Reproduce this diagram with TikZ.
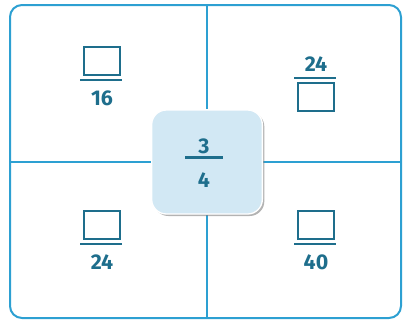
\documentclass[tikz,border=0pt]{standalone}
\usepackage{fontspec}
\setmainfont{Fira Sans}
\usepackage{xcolor}
\usepackage{tikz}
\usetikzlibrary{positioning,shadows,backgrounds}
\definecolor{GridBlue}{RGB}{45,160,210}
\definecolor{FracInk}{RGB}{30,110,140}
\definecolor{HubFill}{RGB}{210,232,244}

\begin{document}
\begin{tikzpicture}[
  x=0.75pt, y=-0.75pt,
  frame/.style={draw=GridBlue, line width=1.5pt, rounded corners=9pt},
  grid/.style={draw=GridBlue, line width=1.2pt},
  hub/.style={rectangle, rounded corners=11pt, minimum width=83pt, minimum height=78pt,
              fill=HubFill, draw=white, line width=1pt,
              drop shadow={shadow xshift=1.5pt, shadow yshift=-1.5pt, fill=black!50, opacity=0.6}},
  blank/.style={rectangle, draw=FracInk, line width=1.3pt, minimum width=27pt, minimum height=21pt, inner sep=0pt},
  num/.style={text=FracInk, font=\fontsize{16}{18}\selectfont\bfseries, inner sep=1pt},
  bar/.style={draw=FracInk, line width=2pt}
]
\useasboundingbox (0,0) rectangle (403,322);
\draw[frame] (10,5) rectangle (401,318);
\coordinate (top) at (207,5);
\coordinate (bot) at (207,318);
\coordinate (lft) at (10,162);
\coordinate (rgt) at (401,162);
\node[hub] (hub) at (207,162) {};
\begin{scope}[on background layer]
\draw[grid] (top) -- (hub.north);
\draw[grid] (bot) -- (hub.south);
\draw[grid] (lft) -- (hub.west);
\draw[grid] (rgt) -- (hub.east);
\end{scope}
% centre fraction
\node[num] (h3) at (204,146) {3};
\node[num] (h4) at (204,180) {4};
\draw[bar] ([xshift=-14pt,yshift=-2pt]h3.south) -- ([xshift=14pt,yshift=-2pt]h3.south);
% top left
\node[blank] (tlbox) at (102,61) {};
\node[num, below=10pt of tlbox] (tlnum) {16};
\draw[bar] ([xshift=-2pt,yshift=-3pt]tlbox.south west) -- ([xshift=1pt,yshift=-3pt]tlbox.south east);
% top right
\node[blank] (trbox) at (316,97) {};
\node[num, above=6.5pt of trbox] (trnum) {24};
\draw[bar] ([xshift=-2pt,yshift=3pt]trbox.north west) -- ([xshift=1pt,yshift=3pt]trbox.north east);
% bottom left
\node[blank] (blbox) at (102,225) {};
\node[num, below=10pt of blbox] (blnum) {24};
\draw[bar] ([xshift=-2pt,yshift=-3pt]blbox.south west) -- ([xshift=1pt,yshift=-3pt]blbox.south east);
% bottom right
\node[blank] (brbox) at (316,225) {};
\node[num, below=10pt of brbox] (brnum) {40};
\draw[bar] ([xshift=-2pt,yshift=-3pt]brbox.south west) -- ([xshift=1pt,yshift=-3pt]brbox.south east);
\end{tikzpicture}
\end{document}
